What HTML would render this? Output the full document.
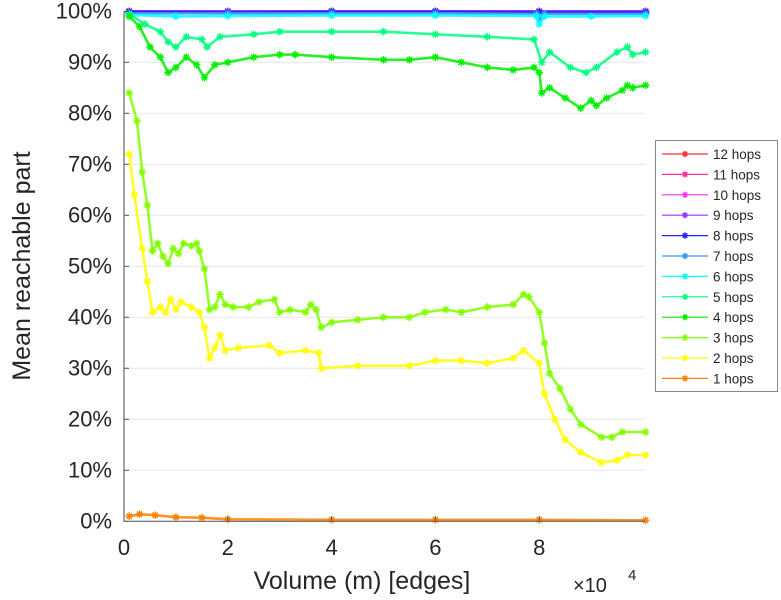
<!DOCTYPE html>
<html><head><meta charset="utf-8"><style>
html,body{margin:0;padding:0;background:#fff;}
svg{display:block;font-family:"Liberation Sans",sans-serif;}
</style></head><body>
<svg id="chart" width="781" height="600" viewBox="0 0 781 600" xmlns="http://www.w3.org/2000/svg">
<g id="grid"></g>
<g id="series"></g>
<g id="axes"></g>
<text x="30" y="266" font-size="25" fill="#262626" text-anchor="middle" transform="rotate(-90 30 266)">Mean reachable part</text>
<text x="362" y="589" font-size="25" fill="#262626" text-anchor="middle">Volume (m) [edges]</text>
<text x="573" y="592" font-size="20" fill="#262626">×10</text>
<text x="628" y="580" font-size="15" fill="#262626">4</text>
<g id="legend"></g>
</svg>
<script>
const xTicks=[0,2,4,6,8];
const yTicks=[0,10,20,30,40,50,60,70,80,90,100];
const seriesNames=["12 hops","11 hops","10 hops","9 hops","8 hops","7 hops","6 hops","5 hops","4 hops","3 hops","2 hops","1 hops"];
const seriesColors=["#ff3333","#ff3399","#ff33ff","#9933ff","#2222ff","#3399ff","#00ffff","#00ff80","#00ee00","#80ff00","#ffff00","#ff8000"];
const xFlat=[0.1,2,4,6,8,10.05];
const hop12=[100,100,100,100,100,100];
const hop11=[100,100,100,100,100,100];
const hop10=[100,100,100,100,100,100];
const hop9=[100,100,100,100,100,100];
const hop8=[99.9,99.8,99.9,99.9,99.8,99.8];
const xHop7=[0.1,2,4,6,7.95,8.0,8.1,10.05];
const hop7=[99.6,99.6,99.6,99.6,99.5,98.5,99.5,99.5];
const xHop6=[0.1,1,2,4,6,7.95,8.0,8.1,9,10.05];
const hop6=[99.3,99,99.1,99.2,99.2,99.1,97.5,99.0,99.0,99.1];
const xHop5=[0.1,0.4,0.7,0.85,1.0,1.2,1.5,1.6,1.85,2.5,3,4,5,6,7,7.9,8.05,8.2,8.6,8.9,9.1,9.5,9.7,9.8,10.05];
const hop5=[99.5,97.5,96,94,93,95,94.5,93,95,95.5,96,96,96,95.5,95,94.5,90,92,89,88,89,92,93,91.5,92];
const xHop4=[0.1,0.3,0.5,0.7,0.85,1.0,1.2,1.4,1.55,1.75,2.0,2.5,3,3.3,4,5,5.5,6,6.5,7,7.5,7.9,8.0,8.05,8.2,8.5,8.8,9.0,9.1,9.3,9.6,9.7,9.8,10.05];
const hop4=[99,97,93,91,88,89,91,89.5,87,89.5,90,91,91.5,91.5,91,90.5,90.5,91,90,89,88.5,89,88,84,85,83,81,82.5,81.5,83,84.5,85.5,85,85.5];
const xHop3=[0.1,0.25,0.35,0.45,0.55,0.65,0.75,0.85,0.95,1.05,1.15,1.3,1.4,1.45,1.55,1.65,1.75,1.85,1.95,2.1,2.4,2.6,2.9,3.0,3.2,3.5,3.6,3.7,3.8,4.0,4.5,5,5.5,5.8,6.2,6.5,7,7.5,7.7,7.8,8.0,8.1,8.2,8.4,8.6,8.8,9.2,9.4,9.6,10.05];
const hop3=[84,78.5,68.5,62,53,54.5,52,50.5,53.5,52.5,54.5,54,54.5,53,49.5,41.5,42,44.5,42.5,42,42,43,43.5,41,41.5,41,42.5,41.5,38,39,39.5,40,40,41,41.5,41,42,42.5,44.5,44,41,35,29,26,22,19,16.5,16.5,17.5,17.5];
const xHop2=[0.1,0.2,0.35,0.45,0.55,0.7,0.8,0.9,1.0,1.1,1.3,1.45,1.55,1.65,1.75,1.85,1.95,2.2,2.8,3,3.5,3.75,3.8,4.5,5.5,6,6.5,7,7.5,7.7,8,8.1,8.3,8.5,8.8,9.2,9.5,9.7,10.05];
const hop2=[72,64,53.5,47,41,42,41,43.5,41.5,43,42,41,38,32,34,36.5,33.5,34,34.5,33,33.5,33,30,30.5,30.5,31.5,31.5,31,32,33.5,31,25,20,16,13.5,11.5,12,13,13];
const xHop1=[0.1,0.3,0.6,1,1.5,2,4,6,8,10.05];
const hop1=[1,1.4,1.2,0.8,0.7,0.4,0.3,0.3,0.3,0.2];
const seriesX=[xFlat,xFlat,xFlat,xFlat,xFlat,xHop7,xHop6,xHop5,xHop4,xHop3,xHop2,xHop1];
const seriesY=[hop12,hop11,hop10,hop9,hop8,hop7,hop6,hop5,hop4,hop3,hop2,hop1];

const NS="http://www.w3.org/2000/svg";
const X0=124,X1=645,Y0=521.3,Y1=11.3;
function xs(v){return X0+v*51.9;}
function ys(v){return Y0-(v/100)*(Y0-Y1);}
function mk(tag,attrs,parent){const e=document.createElementNS(NS,tag);for(const k in attrs)e.setAttribute(k,attrs[k]);parent.appendChild(e);return e;}
const grid=document.getElementById('grid'),axes=document.getElementById('axes'),ser=document.getElementById('series'),leg=document.getElementById('legend');

yTicks.forEach(t=>{
  const y=ys(t);
  if(t>0&&t<100){const g=mk('line',{x1:X0,x2:X1,y1:y,y2:y,stroke:'#e6e6e6','stroke-width':1},grid);
  
  }
  const tk=mk('line',{x1:X0,x2:X0+5,y1:y,y2:y,stroke:'#555'},axes);
  
  
  const lb=mk('text',{x:X0-12,y:y+7,'font-size':22,fill:'#262626','text-anchor':'end'},axes);
  lb.textContent=t+'%';
  
  
});
xTicks.forEach(t=>{
  const x=xs(t);
  const tk=mk('line',{x1:x,x2:x,y1:Y0,y2:Y0-5,stroke:'#555'},axes);
  
  
  const lb=mk('text',{x:x,y:555,'font-size':22,fill:'#262626','text-anchor':'middle'},axes);
  lb.textContent=t;
  
  
});
const ax=mk('path',{d:`M${X0},${Y1}V${Y0}H${X1}`,fill:'none',stroke:'#666','stroke-width':1.2},axes);



function star(cx,cy,col,parent,r){
  const g=mk('path',{d:`M${cx-r},${cy}H${cx+r}M${cx},${cy-r}V${cy+r}M${cx-r*.7},${cy-r*.7}L${cx+r*.7},${cy+r*.7}M${cx-r*.7},${cy+r*.7}L${cx+r*.7},${cy-r*.7}`,stroke:col,'stroke-width':1.4,fill:'none'},parent);
  return g;
}
for(let i=0;i<seriesNames.length;i++){
  const g=mk('g',{},ser);
  
  
  const xa=seriesX[i],ya=seriesY[i];
  let d='';
  xa.forEach((x,j)=>{d+=(j?'L':'M')+xs(x).toFixed(1)+','+ys(ya[j]).toFixed(1);});
  const p=mk('path',{d:d,fill:'none',stroke:seriesColors[i],'stroke-width':2.6,'stroke-linejoin':'round','stroke-opacity':0.85},g);
  
  
  xa.forEach((x,j)=>{
    const s=star(xs(x),ys(ya[j]),seriesColors[i],g,3.8);
    
    
  });
}
const box=mk('rect',{x:655.5,y:140.5,width:122,height:251,fill:'#fff',stroke:'#888'},leg);


seriesNames.forEach((n,i)=>{
  const y=154+i*20.4;
  const g=mk('g',{},leg);
  
  
  mk('line',{x1:662,x2:708,y1:y,y2:y,stroke:seriesColors[i],'stroke-width':1.2},g);
  star(685,y,seriesColors[i],g,3.2);
  const t=mk('text',{x:713,y:y+5,'font-size':13.5,fill:'#262626'},g);
  t.textContent=n;
});
</script>
</body></html>
